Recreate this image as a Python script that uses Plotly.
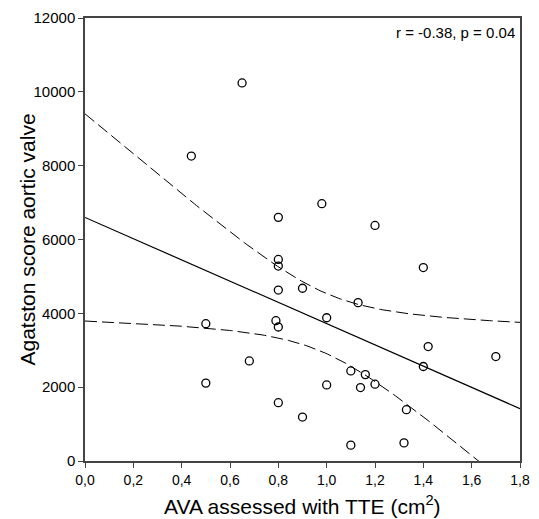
import numpy as np
import plotly.graph_objects as go

# Data
ava = [0.44, 0.65, 0.80, 0.98, 1.20, 0.80, 0.80, 1.40, 0.80, 0.90,
       1.13, 1.00, 0.79, 0.50, 0.80, 1.42, 1.70, 0.68, 1.40, 1.10,
       1.16, 0.50, 1.00, 1.20, 1.14, 0.80, 1.33, 0.90, 1.10, 1.32]
agatston = [8260, 10240, 6600, 6970, 6380, 5460, 5280, 5240, 4630, 4680,
            4290, 3880, 3800, 3720, 3630, 3100, 2830, 2710, 2560, 2440,
            2340, 2110, 2060, 2080, 1990, 1580, 1390, 1190, 430, 490]
x_tick_vals = [0.0, 0.2, 0.4, 0.6, 0.8, 1.0, 1.2, 1.4, 1.6, 1.8]
x_tick_text = ["0,0", "0,2", "0,4", "0,6", "0,8", "1,0", "1,2", "1,4", "1,6", "1,8"]
y_tick_vals = [0, 2000, 4000, 6000, 8000, 10000, 12000]
y_tick_text = ["0", "2000", "4000", "6000", "8000", "10000", "12000"]
stats_text = "r = -0.38, p = 0.04"
x_title = "AVA assessed with TTE (cm<sup>2</sup>)"
y_title = "Agatston score aortic valve"

# Linear regression with 95% confidence band for the mean
x = np.array(ava)
y = np.array(agatston, dtype=float)
n = len(x)
b, a = np.polyfit(x, y, 1)
resid = y - (a + b * x)
s = np.sqrt(np.sum(resid ** 2) / (n - 2))
sxx = np.sum((x - x.mean()) ** 2)
t = 2.048
xf = np.linspace(0, 1.8, 200)
yf = a + b * xf
half = t * s * np.sqrt(1 / n + (xf - x.mean()) ** 2 / sxx)

fig = go.Figure()
fig.add_trace(go.Scatter(x=xf, y=yf + half, mode="lines",
                         line=dict(color="black", width=1, dash="12px,5px"),
                         showlegend=False, hoverinfo="skip"))
fig.add_trace(go.Scatter(x=xf, y=yf - half, mode="lines",
                         line=dict(color="black", width=1, dash="12px,5px"),
                         showlegend=False, hoverinfo="skip"))
fig.add_trace(go.Scatter(x=xf, y=yf, mode="lines",
                         line=dict(color="black", width=1.2),
                         showlegend=False, hoverinfo="skip"))
fig.add_trace(go.Scatter(x=ava, y=agatston, mode="markers",
                         marker=dict(symbol="circle-open", size=8,
                                     color="black", line=dict(width=1.3, color="black")),
                         showlegend=False))

fig.add_annotation(text=stats_text, xref="paper", yref="paper",
                   x=0.992, y=0.99, xanchor="right", yanchor="top",
                   showarrow=False, font=dict(size=15, color="black"))
# axis titles placed as annotations for exact positioning
fig.add_annotation(text=x_title, xref="paper", yref="paper",
                   x=0.5, y=0, xanchor="center", yanchor="middle", yshift=-44,
                   showarrow=False, font=dict(size=21, color="black"))
fig.add_annotation(text=y_title, xref="paper", yref="paper", textangle=-90,
                   x=0, y=0.5, xanchor="center", yanchor="middle", xshift=-58,
                   showarrow=False, font=dict(size=21, color="black"))

fig.update_layout(
    width=539, height=519,
    margin=dict(l=85, r=9, t=15, b=58),
    plot_bgcolor="white", paper_bgcolor="white",
    font=dict(family="Liberation Sans, Arial, sans-serif", color="black"),
)
fig.update_xaxes(range=[0, 1.8], tickvals=x_tick_vals, ticktext=x_tick_text,
                 ticks="outside", ticklen=5, tickcolor="#444", tickwidth=1,
                 showline=True, linecolor="#444", linewidth=1.5, mirror=True,
                 showgrid=False, zeroline=False, tickfont=dict(size=14),
                 ticklabeloverflow="allow")
fig.update_yaxes(range=[0, 12000], tickvals=y_tick_vals, ticktext=y_tick_text,
                 ticks="outside", ticklen=5, tickcolor="#444", tickwidth=1,
                 showline=True, linecolor="#444", linewidth=1.5, mirror=True,
                 showgrid=False, zeroline=False, tickfont=dict(size=15))

fig.write_html("out.html", config={"displayModeBar": False},
               post_script="document.body.style.margin='0';document.body.style.overflow='hidden';")
